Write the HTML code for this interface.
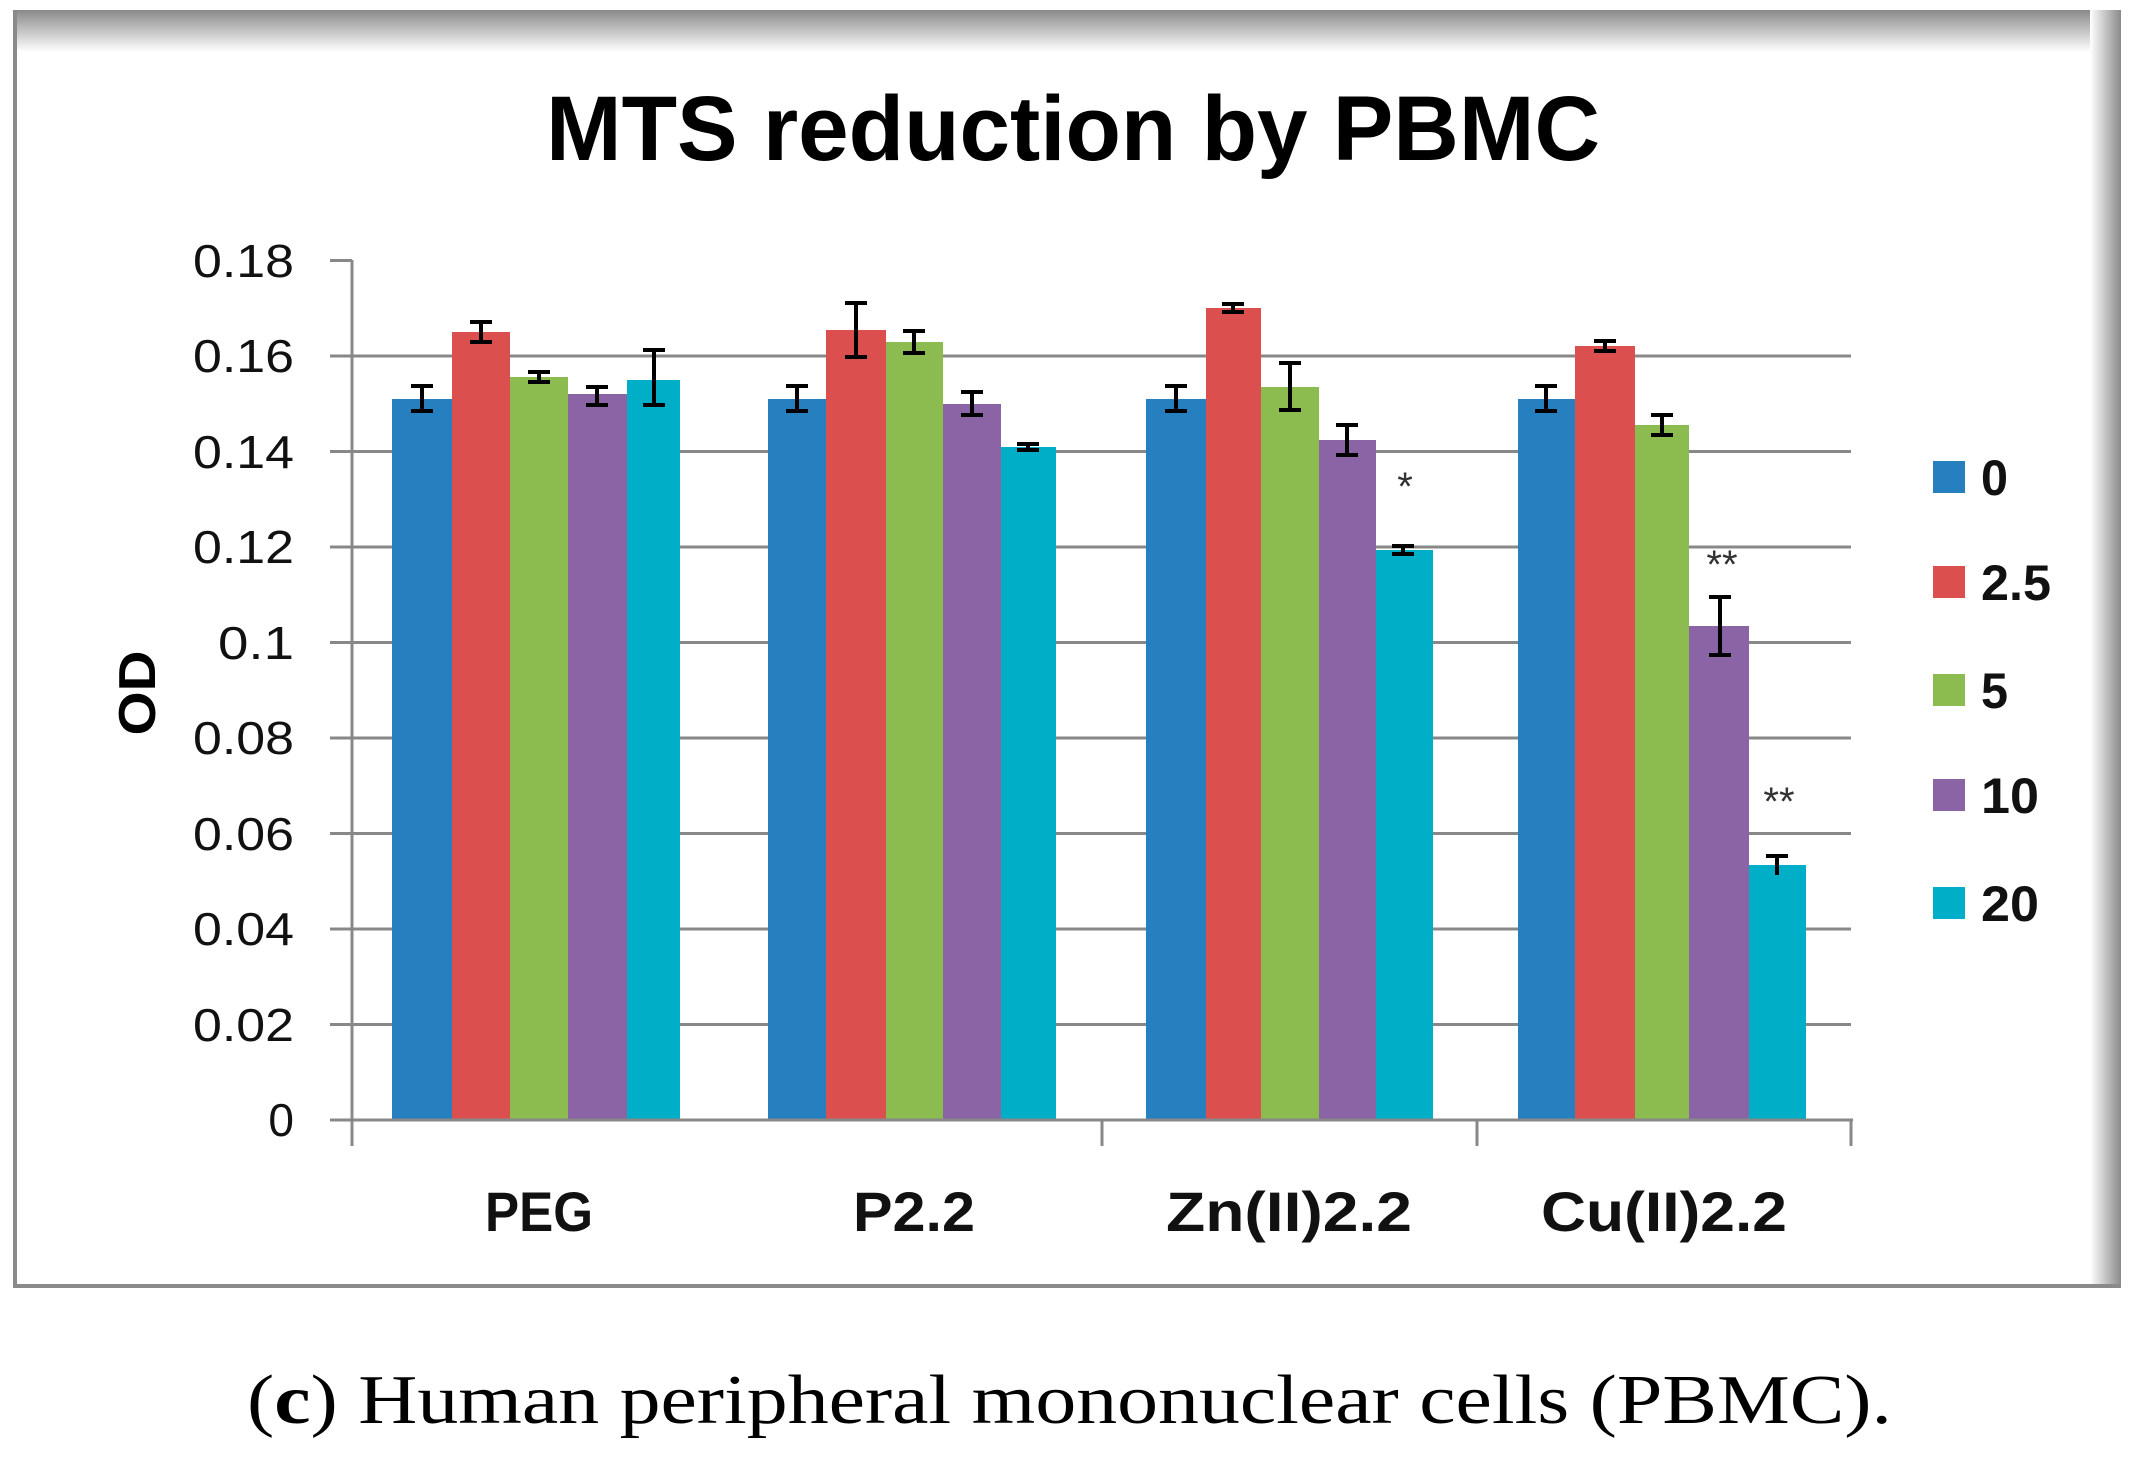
<!DOCTYPE html>
<html><head><meta charset="utf-8"><style>
html,body{margin:0;padding:0;background:#fff;width:2144px;height:1473px;overflow:hidden}
</style></head><body>
<svg width="2144" height="1473" viewBox="0 0 2144 1473" xmlns="http://www.w3.org/2000/svg">
<defs>
<linearGradient id="gt" x1="0" y1="0" x2="0" y2="1"><stop offset="0" stop-color="#8a8a8a"/><stop offset="1" stop-color="#fff"/></linearGradient>
<linearGradient id="gr" x1="0" y1="0" x2="1" y2="0"><stop offset="0" stop-color="#fff"/><stop offset="1" stop-color="#8a8a8a"/></linearGradient>
</defs>
<rect x="0" y="0" width="2144" height="1473" fill="#fff"/>
<!-- frame -->
<rect x="15" y="10" width="2106" height="42" fill="url(#gt)"/>
<rect x="2090" y="10" width="31" height="1276" fill="url(#gr)"/>
<rect x="13" y="10" width="4" height="1278" fill="#8a8a8a"/>
<rect x="13" y="1284" width="2108" height="4" fill="#8a8a8a"/>
<!-- title -->
<text x="1073" y="160" text-anchor="middle" font-family="Liberation Sans, sans-serif" font-weight="bold" font-size="92" textLength="1054" lengthAdjust="spacingAndGlyphs">MTS reduction by PBMC</text>
<!-- gridlines -->
<g stroke="#888" stroke-width="3">
<line x1="330" y1="260.5" x2="352" y2="260.5"/>
<line x1="330" y1="356" x2="1851" y2="356"/>
<line x1="330" y1="451.5" x2="1851" y2="451.5"/>
<line x1="330" y1="547" x2="1851" y2="547"/>
<line x1="330" y1="642.5" x2="1851" y2="642.5"/>
<line x1="330" y1="738" x2="1851" y2="738"/>
<line x1="330" y1="833.5" x2="1851" y2="833.5"/>
<line x1="330" y1="929" x2="1851" y2="929"/>
<line x1="330" y1="1024.5" x2="1851" y2="1024.5"/>
</g>
<!-- y tick labels -->
<g font-family="Liberation Sans, sans-serif" font-size="46" fill="#111" text-anchor="end">
<text x="294" y="277" textLength="101" lengthAdjust="spacingAndGlyphs">0.18</text>
<text x="294" y="372" textLength="101" lengthAdjust="spacingAndGlyphs">0.16</text>
<text x="294" y="468" textLength="101" lengthAdjust="spacingAndGlyphs">0.14</text>
<text x="294" y="563" textLength="101" lengthAdjust="spacingAndGlyphs">0.12</text>
<text x="294" y="659" textLength="76" lengthAdjust="spacingAndGlyphs">0.1</text>
<text x="294" y="754" textLength="101" lengthAdjust="spacingAndGlyphs">0.08</text>
<text x="294" y="850" textLength="101" lengthAdjust="spacingAndGlyphs">0.06</text>
<text x="294" y="945" textLength="101" lengthAdjust="spacingAndGlyphs">0.04</text>
<text x="294" y="1041" textLength="101" lengthAdjust="spacingAndGlyphs">0.02</text>
<text x="294" y="1136">0</text>
</g>
<text transform="translate(155,693) rotate(-90)" text-anchor="middle" font-family="Liberation Sans, sans-serif" font-weight="bold" font-size="52" textLength="85" lengthAdjust="spacingAndGlyphs">OD</text>
<!-- bars -->
<g id="bars">
<!-- PEG -->
<rect x="392" y="399" width="60" height="721" fill="#2680c0"/>
<rect x="452" y="332" width="58" height="788" fill="#dc4f4f"/>
<rect x="510" y="377" width="58" height="743" fill="#8cbb50"/>
<rect x="568" y="394" width="59" height="726" fill="#8a64a5"/>
<rect x="627" y="380" width="53" height="740" fill="#00aec8"/>
<!-- P2.2 -->
<rect x="768" y="399" width="58" height="721" fill="#2680c0"/>
<rect x="826" y="330" width="60" height="790" fill="#dc4f4f"/>
<rect x="886" y="342" width="57" height="778" fill="#8cbb50"/>
<rect x="943" y="404" width="58" height="716" fill="#8a64a5"/>
<rect x="1001" y="447" width="55" height="673" fill="#00aec8"/>
<!-- Zn -->
<rect x="1146" y="399" width="60" height="721" fill="#2680c0"/>
<rect x="1206" y="308" width="55" height="812" fill="#dc4f4f"/>
<rect x="1261" y="387" width="58" height="733" fill="#8cbb50"/>
<rect x="1319" y="440" width="57" height="680" fill="#8a64a5"/>
<rect x="1376" y="550" width="57" height="570" fill="#00aec8"/>
<!-- Cu -->
<rect x="1518" y="399" width="57" height="721" fill="#2680c0"/>
<rect x="1575" y="346" width="60" height="774" fill="#dc4f4f"/>
<rect x="1635" y="425" width="54" height="695" fill="#8cbb50"/>
<rect x="1689" y="626" width="60" height="494" fill="#8a64a5"/>
<rect x="1749" y="865" width="57" height="255" fill="#00aec8"/>
</g>
<!-- error bars -->
<g stroke="#000" stroke-width="4" fill="none">
<path d="M422 386V411M411 386H433M411 411H433"/>
<path d="M481 322V342M470 322H492M470 342H492"/>
<path d="M539 372V382M528 372H550M528 382H550"/>
<path d="M597 387V405M586 387H608M586 405H608"/>
<path d="M654 350V405M643 350H665M643 405H665"/>
<path d="M797 386V411M786 386H808M786 411H808"/>
<path d="M856 303V357M845 303H867M845 357H867"/>
<path d="M914 331V353M903 331H925M903 353H925"/>
<path d="M972 392V415M961 392H983M961 415H983"/>
<path d="M1028 444V450M1017 444H1039M1017 450H1039"/>
<path d="M1176 386V411M1165 386H1187M1165 411H1187"/>
<path d="M1233 304V312M1222 304H1244M1222 312H1244"/>
<path d="M1290 363V410M1279 363H1301M1279 410H1301"/>
<path d="M1347 425V455M1336 425H1358M1336 455H1358"/>
<path d="M1403 546V554M1392 546H1414M1392 554H1414"/>
<path d="M1546 386V411M1535 386H1557M1535 411H1557"/>
<path d="M1605 341V351M1594 341H1616M1594 351H1616"/>
<path d="M1662 415V435M1651 415H1673M1651 435H1673"/>
<path d="M1720 597V655M1709 597H1731M1709 655H1731"/>
<path d="M1777 856V875M1766 856H1788"/>
</g>
<!-- asterisks -->
<g font-family="Liberation Sans, sans-serif" font-size="40" fill="#333" text-anchor="middle">
<text x="1405" y="500">*</text>
<text x="1722" y="578">**</text>
<text x="1779" y="815">**</text>
</g>
<!-- axis -->
<g stroke="#888" stroke-width="3">
<line x1="352" y1="260" x2="352" y2="1146"/>
<line x1="330" y1="1120" x2="1853" y2="1120"/>
<line x1="1102" y1="1120" x2="1102" y2="1146"/>
<line x1="1477" y1="1120" x2="1477" y2="1146"/>
<line x1="1851" y1="1120" x2="1851" y2="1146"/>
</g>
<!-- x labels -->
<g font-family="Liberation Sans, sans-serif" font-weight="bold" font-size="56" fill="#111" text-anchor="middle">
<text x="539" y="1231" textLength="108" lengthAdjust="spacingAndGlyphs">PEG</text>
<text x="914" y="1231" textLength="122" lengthAdjust="spacingAndGlyphs">P2.2</text>
<text x="1289" y="1231" textLength="246" lengthAdjust="spacingAndGlyphs">Zn(II)2.2</text>
<text x="1664" y="1231" textLength="246" lengthAdjust="spacingAndGlyphs">Cu(II)2.2</text>
</g>
<!-- legend -->
<rect x="1933" y="461" width="32" height="32" fill="#2680c0"/>
<rect x="1933" y="566" width="32" height="32" fill="#dc4f4f"/>
<rect x="1933" y="674" width="32" height="32" fill="#8cbb50"/>
<rect x="1933" y="779" width="32" height="32" fill="#8a64a5"/>
<rect x="1933" y="887" width="32" height="32" fill="#00aec8"/>
<g font-family="Liberation Sans, sans-serif" font-weight="bold" font-size="50" fill="#111">
<text x="1981" y="495" textLength="27" lengthAdjust="spacingAndGlyphs">0</text>
<text x="1981" y="600" textLength="70" lengthAdjust="spacingAndGlyphs">2.5</text>
<text x="1981" y="708" textLength="27" lengthAdjust="spacingAndGlyphs">5</text>
<text x="1981" y="813" textLength="58" lengthAdjust="spacingAndGlyphs">10</text>
<text x="1981" y="921" textLength="58" lengthAdjust="spacingAndGlyphs">20</text>
</g>
<!-- caption -->
<text x="247" y="1423" font-family="Liberation Serif, serif" font-size="70" fill="#000" textLength="1645" lengthAdjust="spacingAndGlyphs">(<tspan font-weight="bold">c</tspan>) Human peripheral mononuclear cells (PBMC).</text>
</svg>
</body></html>
